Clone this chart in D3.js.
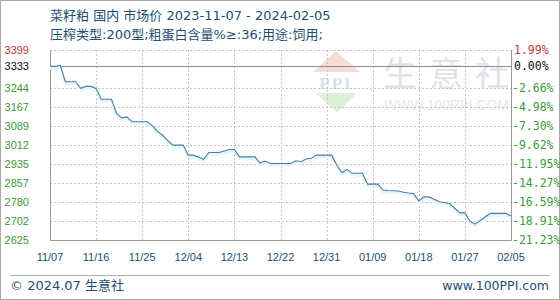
<!DOCTYPE html>
<html>
<head>
<meta charset="utf-8">
<script src="https://cdn.jsdelivr.net/npm/d3@7"></script>
<style>
  body { margin: 0; background: #fff; }
  svg { display: block; }
</style>
</head>
<body>
<div id="chart"></div>
<script>
// rapeseed meal price chart, 100ppi style

var titleLine1 = "菜籽粕 国内 市场价 2023-11-07 - 2024-02-05";
var titleLine2 = "压榨类型:200型;粗蛋白含量%≥:36;用途:饲用;";

var baseValue = 3333;
var leftTicks = [3399, 3333, 3244, 3167, 3089, 3012, 2935, 2857, 2780, 2702, 2625];
var rightTicks = ["1.99%", "0.00%", "-2.66%", "-4.98%", "-7.30%", "-9.62%", "-11.95%", "-14.27%", "-16.59%", "-18.91%", "-21.23%"];

var xTicks = ["2023-11-07", "2023-11-16", "2023-11-25", "2023-12-04", "2023-12-13", "2023-12-22",
              "2023-12-31", "2024-01-09", "2024-01-18", "2024-01-27", "2024-02-05"];

var dates = [
  "2023-11-07", "2023-11-08", "2023-11-09", "2023-11-10", "2023-11-12", "2023-11-13", "2023-11-14",
  "2023-11-15", "2023-11-16", "2023-11-17", "2023-11-19", "2023-11-20", "2023-11-21", "2023-11-22",
  "2023-11-23", "2023-11-26", "2023-11-27", "2023-11-28", "2023-11-29", "2023-11-30", "2023-12-01",
  "2023-12-03", "2023-12-04", "2023-12-05", "2023-12-06", "2023-12-07", "2023-12-08", "2023-12-10",
  "2023-12-12", "2023-12-13", "2023-12-14", "2023-12-17", "2023-12-18", "2023-12-19", "2023-12-20",
  "2023-12-24", "2023-12-25", "2023-12-26", "2023-12-27", "2023-12-28", "2023-12-29", "2024-01-01",
  "2024-01-02", "2024-01-03", "2024-01-04", "2024-01-05", "2024-01-07", "2024-01-08", "2024-01-10",
  "2024-01-11", "2024-01-12", "2024-01-14", "2024-01-15", "2024-01-16", "2024-01-17", "2024-01-18",
  "2024-01-19", "2024-01-20", "2024-01-22", "2024-01-24", "2024-01-26", "2024-01-27", "2024-01-28",
  "2024-01-29", "2024-01-30", "2024-01-31", "2024-02-01", "2024-02-04", "2024-02-05"
];
var prices = [
  3333, 3333, 3337, 3270, 3270, 3243, 3251,
  3251, 3243, 3199, 3199, 3141, 3123, 3127,
  3107, 3107, 3090, 3068, 3052, 3030, 3012,
  3012, 2971, 2971, 2963, 2954, 2982, 2982,
  2994, 2994, 2964, 2964, 2940, 2947, 2937,
  2937, 2948, 2944, 2955, 2958, 2971, 2971,
  2930, 2899, 2913, 2897, 2897, 2853, 2853,
  2829, 2827, 2825, 2820, 2817, 2815, 2784,
  2801, 2801, 2781, 2774, 2736, 2736, 2702,
  2690, 2705, 2720, 2734, 2734, 2723
];

var W = 560, H = 300;
var plot = {left: 50, right: 511, top: 50, bottom: 240};
var parse = d3.timeParse("%Y-%m-%d");
var fmt = d3.timeFormat("%m/%d");
var titleColor = "#1d4f73";
var textFont = "'DejaVu Sans', 'Noto Sans CJK SC', sans-serif";

var svg = d3.select("#chart").append("svg")
    .attr("width", W)
    .attr("height", H);

// outer frame
svg.append("rect")
    .attr("x", 0.5).attr("y", 0.5)
    .attr("width", W - 1).attr("height", H - 1)
    .attr("fill", "#fff").attr("stroke", "#a8a8a8");

var x = d3.scaleTime()
    .domain([parse(xTicks[0]), parse(xTicks[xTicks.length - 1])])
    .range([plot.left, plot.right]);

var y = d3.scaleLinear()
    .domain([2625.4, 3399.3])
    .range([plot.bottom, plot.top]);

// titles
svg.append("text")
    .attr("x", 50).attr("y", 20)
    .attr("font-family", textFont)
    .attr("font-size", "13px")
    .attr("fill", titleColor)
    .text(titleLine1);
svg.append("text")
    .attr("x", 50).attr("y", 39)
    .attr("font-family", textFont)
    .attr("font-size", "13px")
    .attr("fill", titleColor)
    .text(titleLine2);

// watermark
var wm = svg.append("g");
wm.append("path")
    .attr("d", "M336,51 L360,72 L313,72 Z")
    .attr("fill", "#f7dcda");
wm.append("text")
    .attr("x", 336).attr("y", 89)
    .attr("text-anchor", "middle")
    .attr("font-family", "'Liberation Serif', serif")
    .attr("font-weight", "bold")
    .attr("font-size", "17px")
    .attr("letter-spacing", "2px")
    .attr("fill", "#d9e0ee")
    .text("PPI");
wm.append("path")
    .attr("d", "M316,93 L357,93 L337,113 Z")
    .attr("fill", "#dcf0dc");
wm.selectAll(".wmc")
    .data(["生", "意", "社"])
    .enter().append("text")
    .attr("x", function(d, i) { return 383 + i * 46; })
    .attr("y", 86)
    .attr("font-family", "'Noto Sans CJK SC', sans-serif")
    .attr("font-size", "34px")
    .attr("fill", "#e0e2e9")
    .text(function(d) { return d; });
wm.append("text")
    .attr("x", 384).attr("y", 110)
    .attr("textLength", 125)
    .attr("font-family", "'Liberation Sans', sans-serif")
    .attr("font-size", "14px")
    .attr("fill", "#e8e8e8")
    .text("WWW.100PPI.COM");

// grid
var grid = svg.append("g");

grid.selectAll(".hg")
    .data(leftTicks.filter(function(d) { return d !== baseValue; }))
    .enter().append("line")
    .attr("x1", plot.left).attr("x2", plot.right)
    .attr("y1", function(d) { return Math.round(y(d)) + 0.5; })
    .attr("y2", function(d) { return Math.round(y(d)) + 0.5; })
    .attr("stroke", "#c4c4c4")
    .attr("stroke-dasharray", "2,2");

grid.selectAll(".vg")
    .data(xTicks.slice(1, -1))
    .enter().append("line")
    .attr("y1", plot.top).attr("y2", plot.bottom)
    .attr("x1", function(d) { return Math.round(x(parse(d))) + 0.5; })
    .attr("x2", function(d) { return Math.round(x(parse(d))) + 0.5; })
    .attr("stroke", "#c4c4c4")
    .attr("stroke-dasharray", "2,2");

// base line
svg.append("line")
    .attr("x1", plot.left).attr("x2", plot.right)
    .attr("y1", Math.round(y(baseValue)) + 0.5)
    .attr("y2", Math.round(y(baseValue)) + 0.5)
    .attr("stroke", "#8c8c8c");

// plot frame (left, bottom, right solid)
svg.append("path")
    .attr("d", "M" + (plot.left + 0.5) + "," + plot.top +
               "V" + (plot.bottom + 0.5) +
               "H" + (plot.right + 0.5) +
               "V" + plot.top)
    .attr("fill", "none")
    .attr("stroke", "#9a9a9a");

// price line with light shadow
var data = dates.map(function(d, i) { return {date: parse(d), value: prices[i]}; });
var line = d3.line()
    .x(function(d) { return x(d.date); })
    .y(function(d) { return y(d.value); });

svg.append("path")
    .datum(data)
    .attr("d", line)
    .attr("transform", "translate(0,2)")
    .attr("fill", "none")
    .attr("stroke", "#e2f6fc")
    .attr("stroke-width", 2.5);
svg.append("path")
    .datum(data)
    .attr("d", line)
    .attr("fill", "none")
    .attr("stroke", "#4a7c9e")
    .attr("stroke-width", 1.1);

// left axis labels
svg.selectAll(".ly")
    .data(leftTicks)
    .enter().append("text")
    .attr("x", 29)
    .attr("y", function(d) { return y(d); })
    .attr("dy", "0.35em")
    .attr("text-anchor", "end")
    .attr("font-family", "'Liberation Sans', Arial, sans-serif")
    .attr("font-size", "11px")
    .attr("fill", function(d, i) { return i === 0 ? "#c8343c" : (d === baseValue ? "#111" : "#3c9a3c"); })
    .text(function(d) { return d; });

// right axis labels
svg.selectAll(".ry")
    .data(rightTicks)
    .enter().append("text")
    .attr("x", function(d) { return d.charAt(0) === "-" ? 512 : 514; })
    .attr("y", function(d, i) { return y(leftTicks[i]); })
    .attr("dy", "0.35em")
    .attr("font-family", "'DejaVu Sans Mono', monospace")
    .attr("font-size", "11.5px")
    .attr("fill", function(d, i) { return i === 0 ? "#c8343c" : (leftTicks[i] === baseValue ? "#111" : "#3c9a3c"); })
    .text(function(d) { return d; });

// x axis labels
svg.selectAll(".xl")
    .data(xTicks)
    .enter().append("text")
    .attr("x", function(d) { return x(parse(d)); })
    .attr("y", 261)
    .attr("text-anchor", "middle")
    .attr("font-family", "'Liberation Sans', Arial, sans-serif")
    .attr("font-size", "11px")
    .attr("fill", titleColor)
    .text(function(d) { return fmt(parse(d)); });

// footer
svg.append("line")
    .attr("x1", 10).attr("x2", 550)
    .attr("y1", 275.5).attr("y2", 275.5)
    .attr("stroke", "#b0b0b0");
svg.append("text")
    .attr("x", 10).attr("y", 290)
    .attr("font-family", textFont)
    .attr("font-size", "13px")
    .attr("fill", titleColor)
    .text("© 2024.07 生意社");
svg.append("text")
    .attr("x", 549).attr("y", 290)
    .attr("text-anchor", "end")
    .attr("font-family", "'DejaVu Sans', sans-serif")
    .attr("font-size", "12.5px")
    .attr("fill", titleColor)
    .text("www.100PPI.com");
</script>
</body>
</html>
